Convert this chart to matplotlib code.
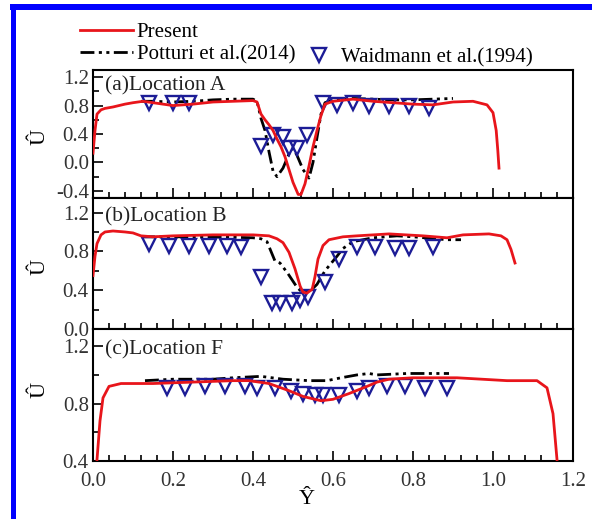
import matplotlib
matplotlib.use('Agg')
import matplotlib.pyplot as plt
from matplotlib.lines import Line2D
from matplotlib.patches import Rectangle
from matplotlib.ticker import MultipleLocator

plt.rcParams['font.family'] = ['Liberation Serif', 'DejaVu Serif']
plt.rcParams['font.size'] = 15

# ---- Location A ----
ya_red = [0.0, 0.005, 0.01, 0.02, 0.03, 0.05, 0.08, 0.1, 0.125, 0.15, 0.2, 0.25, 0.3, 0.35, 0.4,
          0.41, 0.42, 0.43, 0.44, 0.45, 0.46, 0.47, 0.48, 0.49, 0.5, 0.513, 0.52, 0.53, 0.54, 0.55,
          0.56, 0.57, 0.58, 0.6, 0.65, 0.7, 0.75, 0.8, 0.85, 0.9, 0.95, 0.985, 1.0, 1.008, 1.012, 1.015]
ua_red = [0.13, 0.45, 0.68, 0.74, 0.76, 0.78, 0.82, 0.84, 0.86, 0.84, 0.8, 0.82, 0.85, 0.86, 0.87,
          0.85, 0.68, 0.6, 0.53, 0.45, 0.33, 0.22, 0.08, -0.1, -0.28, -0.45, -0.45, -0.3, -0.05, 0.22,
          0.45, 0.66, 0.82, 0.86, 0.89, 0.86, 0.84, 0.82, 0.81, 0.85, 0.86, 0.81, 0.7, 0.45, 0.17, -0.08]
ya_pot = [0.12, 0.15, 0.2, 0.25, 0.3, 0.35, 0.4, 0.41, 0.42, 0.43, 0.44, 0.45, 0.46, 0.475, 0.49,
          0.5, 0.51, 0.525, 0.54, 0.55, 0.56, 0.57, 0.58, 0.6, 0.65, 0.7, 0.75, 0.8, 0.85, 0.9]
ua_pot = [0.86, 0.86, 0.85, 0.86, 0.88, 0.89, 0.89, 0.86, 0.62, 0.45, 0.15, -0.12, -0.2, -0.08, 0.12,
          0.2, 0.1, -0.1, -0.22, 0.0, 0.35, 0.68, 0.84, 0.88, 0.9, 0.89, 0.88, 0.88, 0.89, 0.9]
ya_exp = [0.14, 0.2, 0.24, 0.42, 0.45, 0.475, 0.49, 0.51, 0.535, 0.575, 0.61, 0.65, 0.69, 0.74, 0.79, 0.84]
ua_exp = [0.84, 0.84, 0.83, 0.23, 0.39, 0.36, 0.2, 0.21, 0.39, 0.84, 0.81, 0.83, 0.79, 0.79, 0.79, 0.77]

# ---- Location B ----
yb_red = [0.0, 0.005, 0.01, 0.02, 0.03, 0.05, 0.08, 0.1, 0.12, 0.15, 0.2, 0.3, 0.4, 0.44, 0.46,
          0.475, 0.49, 0.505, 0.518, 0.525, 0.535, 0.548, 0.555, 0.5625, 0.575, 0.59, 0.625, 0.66,
          0.74, 0.825, 0.885, 0.925, 0.99, 1.02, 1.035, 1.045, 1.055]
ub_red = [0.55, 0.75, 0.88, 0.97, 1.0, 1.01, 1.0, 0.99, 0.96, 0.95, 0.96, 0.97, 0.97, 0.96, 0.93,
          0.89, 0.79, 0.62, 0.44, 0.38, 0.37, 0.41, 0.54, 0.72, 0.86, 0.92, 0.95, 0.96,
          0.98, 0.96, 0.94, 0.97, 0.98, 0.96, 0.92, 0.82, 0.68]
yb_pot = [0.12, 0.2, 0.3, 0.4, 0.42, 0.435, 0.455, 0.4675, 0.4875, 0.51, 0.52, 0.53, 0.545, 0.56,
          0.58, 0.61, 0.625, 0.65, 0.7, 0.76, 0.8, 0.885, 0.92]
ub_pot = [0.95, 0.95, 0.95, 0.94, 0.93, 0.9, 0.7, 0.68, 0.57, 0.43, 0.39, 0.38, 0.4, 0.46,
          0.6, 0.75, 0.83, 0.9, 0.94, 0.96, 0.95, 0.92, 0.92]
yb_exp = [0.14, 0.19, 0.24, 0.29, 0.335, 0.37, 0.42, 0.4475, 0.4675, 0.4975, 0.5175, 0.5375, 0.58,
          0.615, 0.66, 0.705, 0.755, 0.79, 0.85]
ub_exp = [0.88, 0.86, 0.86, 0.86, 0.86, 0.85, 0.54, 0.27, 0.27, 0.27, 0.3, 0.33, 0.48,
          0.72, 0.85, 0.85, 0.83, 0.83, 0.85]

# ---- Location F ----
yc_red = [0.01, 0.0175, 0.025, 0.04, 0.07, 0.15, 0.25, 0.35, 0.39, 0.44, 0.49, 0.525, 0.57, 0.6,
          0.64, 0.685, 0.71, 0.74, 0.8, 0.91, 1.035, 1.11, 1.135, 1.15, 1.16]
uc_red = [0.41, 0.68, 0.84, 0.92, 0.94, 0.94, 0.95, 0.96, 0.96, 0.94, 0.89, 0.85, 0.82, 0.83,
          0.87, 0.92, 0.95, 0.97, 0.98, 0.98, 0.96, 0.96, 0.91, 0.73, 0.41]
yc_pot = [0.13, 0.2, 0.3, 0.35, 0.42, 0.475, 0.54, 0.585, 0.62, 0.66, 0.69, 0.71, 0.785, 0.89]
uc_pot = [0.96, 0.97, 0.97, 0.98, 0.99, 0.97, 0.96, 0.96, 0.98, 1.0, 1.01, 1.0, 1.01, 1.01]
yc_exp = [0.185, 0.23, 0.28, 0.33, 0.38, 0.41, 0.455, 0.495, 0.525, 0.555, 0.575, 0.615, 0.66,
          0.69, 0.735, 0.78, 0.83, 0.885]
uc_exp = [0.91, 0.91, 0.92, 0.92, 0.92, 0.91, 0.91, 0.89, 0.87, 0.86, 0.86, 0.86, 0.89,
          0.91, 0.92, 0.92, 0.91, 0.91]

panels = [
    ('(a)Location A', ya_red, ua_red, ya_pot, ua_pot, ya_exp, ua_exp, (-0.5, 1.3), 0.48, 0.877),
    ('(b)Location B', yb_red, ub_red, yb_pot, ub_pot, yb_exp, ub_exp, (0.0, 1.35), 0.47, 0.855),
    ('(c)Location F', yc_red, uc_red, yc_pot, uc_pot, yc_exp, uc_exp, (0.4, 1.32), 0.54, 0.84),
]

red = '#e8151b'
navy = '#1c1c96'
dash = (5, 1.6, 1.1, 1.6, 1.1, 1.6)

fig = plt.figure(figsize=(5.92, 5.19), dpi=100)
W, H = 592, 519
left, right = 93, 573
edges = [70, 198, 329, 461]

for i, (lab, yr, ur, yp, up, ye, ue, ylim, ylab_y, lab_y) in enumerate(panels):
    top, bot = edges[i], edges[i + 1]
    ax = fig.add_axes([left / W, 1 - bot / H, (right - left) / W, (bot - top) / H])
    ax.plot(yp, up, color='black', lw=2, dashes=dash, zorder=2)
    ax.plot(ye, ue, 'v', ms=10, mfc='none', mec=navy, mew=1.7, zorder=3)
    ax.plot(yr, ur, color=red, lw=2, zorder=4)
    ax.set_xlim(0, 1.2)
    ax.set_ylim(*ylim)
    ax.xaxis.set_major_locator(MultipleLocator(0.2))
    ax.xaxis.set_minor_locator(MultipleLocator(0.04))
    ax.yaxis.set_major_locator(MultipleLocator(0.4))
    ax.yaxis.set_minor_locator(MultipleLocator(0.2))
    ax.tick_params(which='both', direction='in', top=False, right=False, width=1.2)
    ax.tick_params(which='major', length=7)
    ax.tick_params(which='minor', length=4)
    for s in ax.spines.values():
        s.set_linewidth(1.5)
    if i < 2:
        ax.tick_params(labelbottom=False)
    else:
        ax.set_xticks([0.0, 0.2, 0.4, 0.6, 0.8, 1.0, 1.2])
        ax.set_xticklabels(['0.0', '0.2', '0.4', '0.6', '0.8', '1.0', '1.2'])
        ax.tick_params(axis='x', pad=8)
    yt = [t for t in [-0.4, 0.0, 0.4, 0.8, 1.2] if ylim[0] - 1e-9 <= t <= ylim[1]]
    ax.set_yticks(yt)
    ax.set_yticklabels(['%.1f' % t for t in yt])
    ax.tick_params(axis='y', pad=3)
    ax.set_ylabel('\u00db', fontsize=16)
    ax.yaxis.set_label_coords(-0.09, ylab_y)
    ax.text(0.025, lab_y, lab, transform=ax.transAxes, ha='left', va='center',
            color='#222222', fontsize=15.5)
    for t in ax.get_xticklabels() + ax.get_yticklabels():
        t.set_color('#333333')

fig.text(307 / W, 1 - 500 / H, '\u0176', ha='center', va='center', fontsize=16)

h1 = [Line2D([], [], color=red, lw=2),
      Line2D([], [], color='black', lw=2, dashes=dash)]
leg1 = fig.legend(h1, ['Present', 'Potturi et al.(2014)'], frameon=False, loc='upper left',
                  bbox_to_anchor=(70 / W, 1 - 12 / H), handlelength=2.5, handletextpad=0.2,
                  labelspacing=0.15, borderpad=0, fontsize=15)
h2 = [Line2D([], [], ls='none', marker='v', ms=10, mfc='none', mec=navy, mew=1.7)]
fig.legend(h2, ['Waidmann et al.(1994)'], frameon=False, loc='upper left',
           bbox_to_anchor=(296 / W, 1 - 37 / H), handlelength=1.2, handletextpad=0.45,
           borderpad=0, fontsize=15)

# blue frame of the figure
fig.add_artist(Rectangle((10 / W, 1 - 10 / H), 1, 6 / H, transform=fig.transFigure,
                         color='#0000ff', lw=0))
fig.add_artist(Rectangle((11 / W, 0), 5 / W, 1 - 4 / H, transform=fig.transFigure,
                         color='#0000ff', lw=0))

fig.savefig('out.png', dpi=100)
